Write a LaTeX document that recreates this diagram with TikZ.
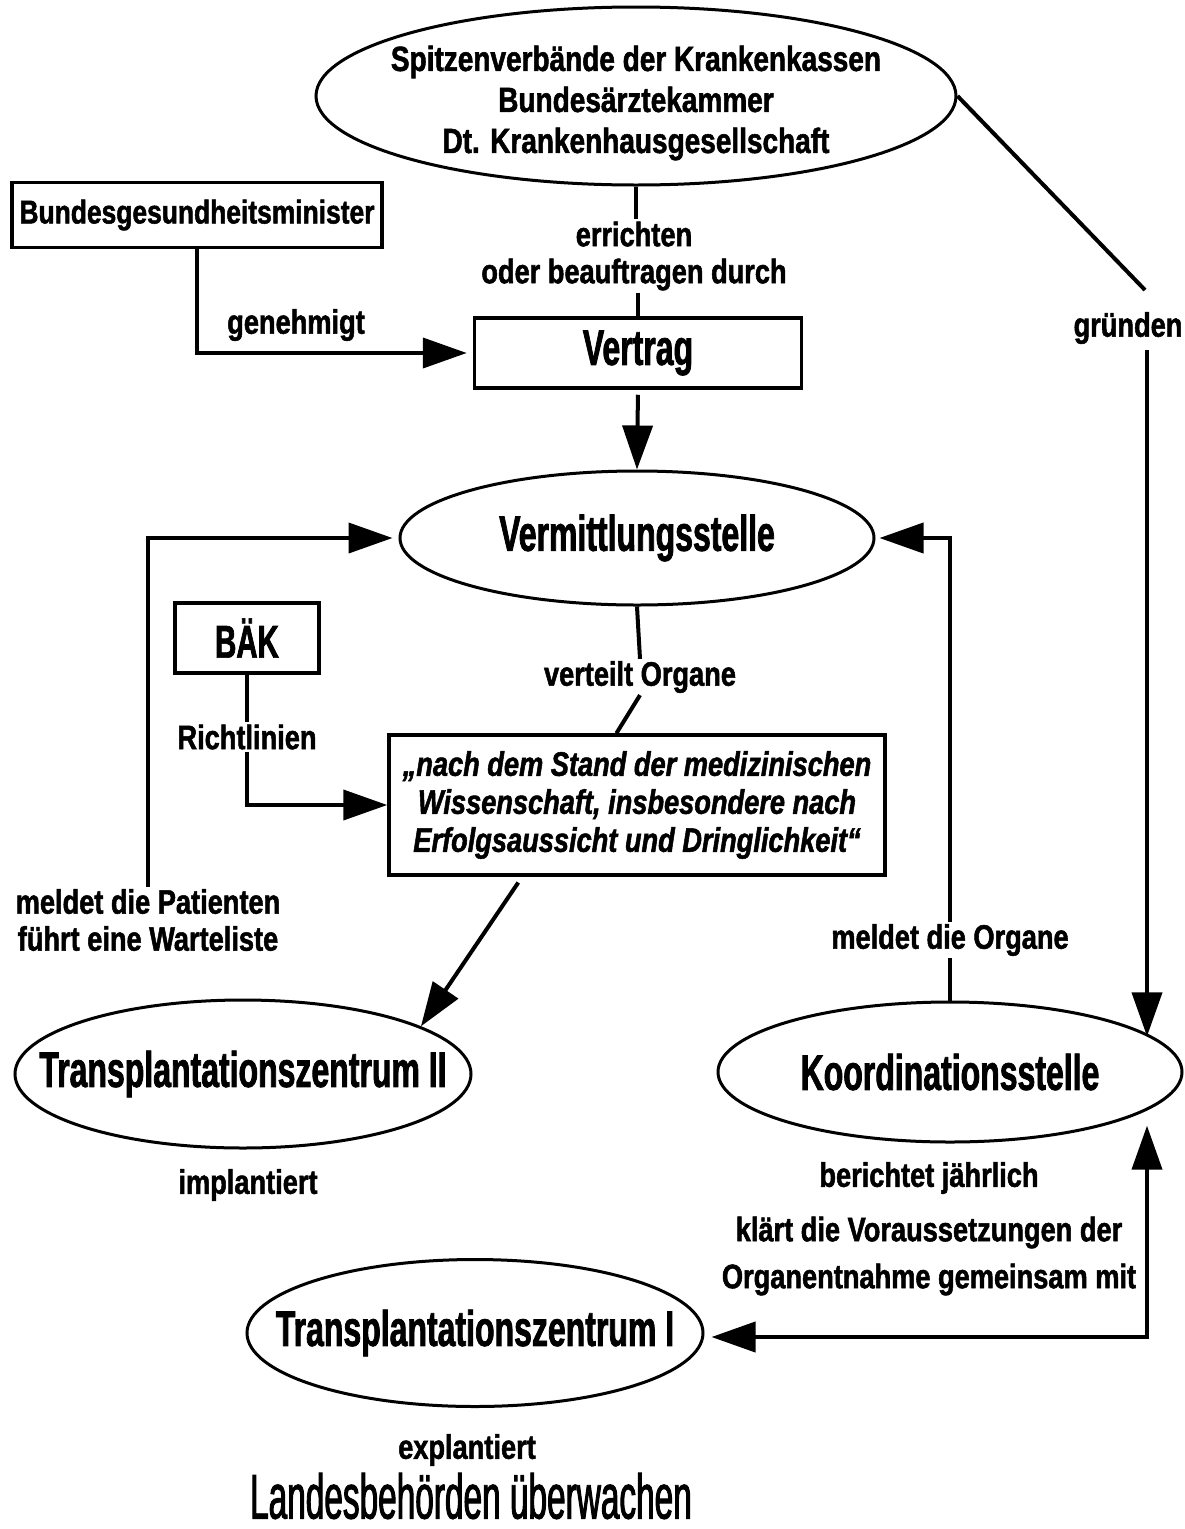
\documentclass[tikz,border=0pt]{standalone}
\usepackage{fontspec}
\setmainfont{Liberation Sans}[FakeStretch=0.8, FakeBold=1.5]
\newfontfamily\condfont{Liberation Sans}[FakeStretch=0.64, FakeBold=1.5]
\newfontfamily\narrowfont{Liberation Sans}[FakeStretch=0.53, FakeBold=1.5]
\usepackage{tikz}
\usetikzlibrary{arrows.meta,shapes.geometric}
\newcommand{\labfont}{\fontsize{34}{37}\selectfont\bfseries}
\newcommand{\headfont}{\condfont\fontsize{50}{54}\selectfont\bfseries}
\tikzset{
  lab/.style={font=\labfont, align=center, inner sep=2pt},
  big/.style={font=\headfont, align=center},
  oval/.style={ellipse, draw, line width=3pt, inner sep=0pt},
  boxLine/.style={draw, line width=3.5pt, inner sep=0pt},
  conn/.style={line width=4pt},
  arr/.style={conn, -{Triangle[length=44pt,width=30pt]}},
  dbl/.style={conn, {Triangle[length=44pt,width=30pt]}-{Triangle[length=44pt,width=30pt]}}
}

\begin{document}
\begin{tikzpicture}[x=1pt,y=-1pt]
\useasboundingbox (0,0) rectangle (1185,1529);

% top: Spitzenverbaende, Minister, Vertrag
\node[oval, minimum width=640, minimum height=178,
  label={[lab,name=spitzenText,font=\fontsize{35}{41}\selectfont\bfseries,yshift=-7pt]center:Spitzenverbände der Krankenkassen\\Bundesärztekammer\\Dt. Krankenhausgesellschaft}] (spitzen) at (636,96) {};
\node[boxLine, lab, font=\fontsize{33}{36}\selectfont\bfseries, minimum width=370, minimum height=65] (bmg) at (197,215) {Bundesgesundheitsminister};
\node[lab] (errichten) at (634,256) {errichten\\oder beauftragen durch};
\node[lab] (genehmigt) at (296,325) {genehmigt};
\node[lab] (gruenden) at (1128,328) {gründen};
\node[boxLine, big, minimum width=327, minimum height=70] (vertrag) at (638,353) {Vertrag};

\draw[conn] (spitzen.south) -- (spitzen.south |- errichten.north);
\draw[conn] (vertrag.north |- errichten.south) -- (vertrag.north);
\draw[arr, shorten >=6pt] (bmg.south) |- (vertrag.west);

% middle: Vermittlungsstelle, BAeK, Richtlinien
\node[oval, minimum width=474, minimum height=134,
  label={[big,name=vermText]center:Vermittlungsstelle}] (vermittlung) at (637,538) {};
\node[boxLine, big, font=\condfont\fontsize{46}{50}\selectfont\bfseries, minimum width=144, minimum height=70] (baek) at (247,638) {BÄK};
\node[lab] (richtlinien) at (247,737) {Richtlinien};
\node[lab] (verteilt) at (640,677) {verteilt Organe};
\node[boxLine, lab, font=\fontsize{34}{38}\selectfont\bfseries\itshape, minimum width=496, minimum height=140] (quote) at (637,805)
  {„nach dem Stand der medizinischen\\Wissenschaft, insbesondere nach\\Erfolgsaussicht und Dringlichkeit“};
\node[lab] (patienten) at (148,920) {meldet die Patienten\\führt eine Warteliste};
\node[lab] (organe) at (950,940) {meldet die Organe};

\draw[arr, shorten <=5pt] (vertrag.south) -- (vermittlung.north);
\draw[conn] (vermittlung.south) -- (verteilt.north);
\draw[conn] (verteilt.south) -- (quote.106);
\draw[conn] (baek.south) -- (richtlinien.north);
\draw[arr] (richtlinien.south) |- (quote.west);
\draw[arr, shorten >=6pt] (patienten.north) |- (vermittlung.west);

% bottom: Zentren, Koordinationsstelle
\node[oval, minimum width=456, minimum height=148,
  label={[big,name=tzTwoText]center:Transplantationszentrum II}] (tz2) at (243,1074) {};
\node[oval, minimum width=464, minimum height=140,
  label={[big,name=koordText]center:Koordinationsstelle}] (koord) at (950,1072) {};
\node[lab] (implantiert) at (248,1185) {implantiert};
\node[lab] (berichtet) at (929,1178) {berichtet jährlich};
\node[lab] (klaert) at (929,1256) {klärt die Voraussetzungen der\\[10pt]Organentnahme gemeinsam mit};
\node[oval, minimum width=456, minimum height=147,
  label={[big,name=tzOneText]center:Transplantationszentrum I}] (tz1) at (475,1333) {};
\node[lab] (explantiert) at (467,1450) {explantiert};
\node[font=\narrowfont\fontsize{63}{68}\selectfont, inner sep=0pt] (landes) at (471,1496) {Landesbehörden überwachen};

\draw[arr, shorten <=7pt] (quote.212) -- (tz2.15);
\draw[conn] (koord.north) -- (organe.south);
\draw[arr, shorten >=4pt] (organe.north) |- (vermittlung.east);

% right side: gruenden and Koordinationsstelle loop
\coordinate (grTop) at (1145,290);
\coordinate (grBot) at (1147,350);
\coordinate (kCorner) at (1147,1337);
\draw[conn] (spitzen.east) -- (grTop);
\draw[arr] (grBot) -- (grBot |- koord.10);
\draw[dbl, shorten <=7pt, shorten >=18pt] (tz1.east |- kCorner) -- (kCorner) -- (kCorner |- koord.-10);
\end{tikzpicture}
\end{document}
